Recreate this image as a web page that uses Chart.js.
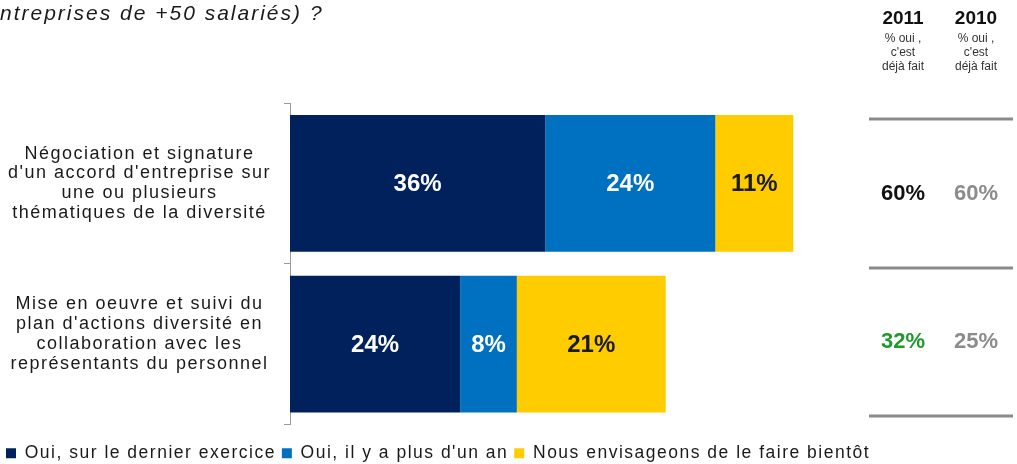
<!DOCTYPE html>
<html lang="fr">
<head>
<meta charset="utf-8">
<title>Diversité - accords et plans d'actions</title>
<script src="https://cdn.jsdelivr.net/npm/chart.js@4/dist/chart.umd.min.js"></script>
<style>
  html, body { margin: 0; padding: 0; background: #fff; }
  #wrap { width: 1017px; height: 464px; position: relative; }
</style>
</head>
<body>
<div id="wrap"><canvas id="diversiteChart"></canvas></div>
<script>
// categories (multi-line labels for the y axis); the trailing blank line lifts the second block a bit
const categories = [
  ['Négociation et signature', "d'un accord d'entreprise sur", 'une ou plusieurs', 'thématiques de la diversité'],
  ['Mise en oeuvre et suivi du', "plan d'actions diversité en", 'collaboration avec les', 'représentants du personnel', '']
];
const seriesNames = ['Oui, sur le dernier exercice', "Oui, il y a plus d'un an", 'Nous envisageons de le faire bientôt'];
const lastExercice = [36, 24];
const moreThanYear = [24, 8];
const planned = [11, 21];

// side table: % oui, c'est déjà fait
const yearHeaders = ['2011', '2010'];
const yes2011 = [60, 32];
const yes2010 = [60, 25];

const NAVY = '#00215c';
const BLUE = '#0070c0';
const YELLOW = '#ffcc00';
const FONT = "'Liberation Sans', Arial, sans-serif";

const spacingPlugin = {
  id: 'spacing',
  beforeLayout(chart) { chart.ctx.letterSpacing = '1.5px'; },
  beforeDraw(chart) { chart.ctx.letterSpacing = '1.5px'; }
};

// percentage inside each bar segment
const barLabels = {
  id: 'barLabels',
  afterDatasetsDraw(chart) {
    const ctx = chart.ctx;
    ctx.save();
    ctx.letterSpacing = '0px';
    ctx.font = 'bold 24px ' + FONT;
    ctx.textAlign = 'center';
    ctx.textBaseline = 'middle';
    chart.data.datasets.forEach((ds, i) => {
      const meta = chart.getDatasetMeta(i);
      meta.data.forEach((bar, j) => {
        ctx.fillStyle = ds.labelColor;
        ctx.fillText(ds.data[j] + '%', (bar.x + bar.base) / 2, bar.y + 1);
      });
    });
    ctx.restore();
  }
};

// question text at the top and the 2011 / 2010 comparison column
const sideTable = {
  id: 'sideTable',
  afterDraw(chart) {
    const ctx = chart.ctx;
    ctx.save();

    ctx.letterSpacing = '2px';
    ctx.font = 'italic 21px ' + FONT;
    ctx.fillStyle = '#1a1a1a';
    ctx.textAlign = 'left';
    ctx.textBaseline = 'alphabetic';
    ctx.fillText('ntreprises de +50 salariés) ?', 0, 20);

    const cols = [903, 976];
    ctx.letterSpacing = '0px';
    ctx.textAlign = 'center';
    yearHeaders.forEach((yr, k) => {
      ctx.fillStyle = '#111';
      ctx.font = 'bold 19px ' + FONT;
      ctx.fillText(yr, cols[k], 24);
      ctx.fillStyle = '#333';
      ctx.font = '12px ' + FONT;
      ctx.fillText('% oui ,', cols[k], 42);
      ctx.fillText("c'est", cols[k], 56);
      ctx.fillText('déjà fait', cols[k], 70);
    });

    const lines = [119, 268, 416];
    ctx.strokeStyle = '#8a8a8a';
    ctx.lineWidth = 3;
    lines.forEach(y => {
      ctx.beginPath();
      ctx.moveTo(869, y);
      ctx.lineTo(1013, y);
      ctx.stroke();
    });

    ctx.font = 'bold 22px ' + FONT;
    ctx.textBaseline = 'middle';
    const colors2011 = ['#111', '#1f9a2b'];
    yes2011.forEach((v, i) => {
      const y = (lines[i] + lines[i + 1]) / 2;
      ctx.fillStyle = colors2011[i];
      ctx.fillText(v + '%', cols[0], y);
      ctx.fillStyle = '#8c8c8c';
      ctx.fillText(yes2010[i] + '%', cols[1], y);
    });
    ctx.restore();
  }
};

new Chart(document.getElementById('diversiteChart'), {
  type: 'bar',
  data: {
    labels: categories,
    datasets: [
      { label: seriesNames[0], data: lastExercice, backgroundColor: NAVY, labelColor: '#fff' },
      { label: seriesNames[1], data: moreThanYear, backgroundColor: BLUE, labelColor: '#fff' },
      { label: seriesNames[2], data: planned, backgroundColor: YELLOW, labelColor: '#1a1a1a' }
    ]
  },
  options: {
    indexAxis: 'y',
    responsive: true,
    maintainAspectRatio: false,
    animation: false,
    borderWidth: 0,
    categoryPercentage: 0.85,
    barPercentage: 1,
    layout: { padding: { top: 103, right: 0, bottom: -8, left: 0 } },
    plugins: {
      legend: {
        position: 'bottom',
        align: 'start',
        title: { display: true, text: ' ', font: { size: 1, lineHeight: 1 }, padding: { top: 0, bottom: 13 } },
        labels: {
          boxWidth: 10,
          boxHeight: 10,
          padding: 6,
          color: '#1a1a1a',
          font: { family: FONT, size: 17.5 }
        }
      },
      tooltip: { enabled: false }
    },
    scales: {
      x: { stacked: true, display: false, min: 0, max: 79 },
      y: {
        stacked: true,
        afterFit(scale) {
          // the multi-line labels sit well inside their bands, so no extra room is needed
          scale.width = 290;
          scale.paddingTop = 0;
          scale.paddingBottom = 0;
        },
        grid: { drawOnChartArea: false, drawTicks: true, tickLength: 6, color: '#9a9a9a' },
        border: { display: true, color: '#9a9a9a' },
        ticks: {
          crossAlign: 'center',
          padding: 13,
          color: '#1a1a1a',
          font: { family: FONT, size: 18, lineHeight: 1.1 }
        }
      },
      // empty right-hand axis that reserves room for the comparison column
      side: {
        type: 'linear',
        axis: 'y',
        position: 'right',
        afterFit(scale) { scale.width = 167; },
        grid: { display: false },
        border: { display: false },
        ticks: { display: false }
      }
    }
  },
  plugins: [spacingPlugin, barLabels, sideTable]
});
</script>
</body>
</html>
